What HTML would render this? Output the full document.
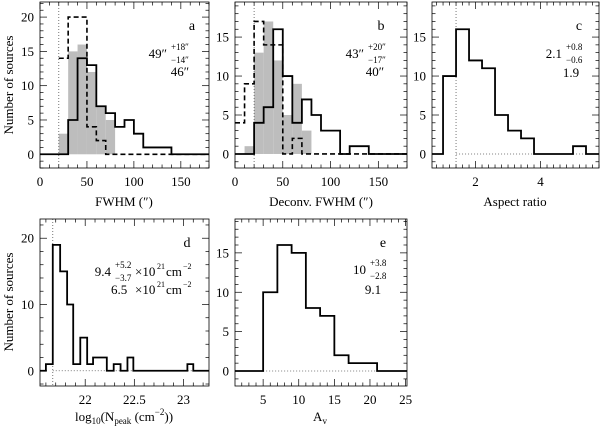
<!DOCTYPE html>
<html><head><meta charset="utf-8"><style>
body{margin:0;background:#fff;}
svg{display:block;font-family:"Liberation Serif",serif;}
</style></head><body>
<svg id="chart" width="600" height="426" viewBox="0 0 600 426" xmlns="http://www.w3.org/2000/svg"></svg>
<script>
// Panel a: FWHM
const aEdges=[0,20,30,40,50,60,70,80,90,100,110,140,180];
const aSolid=[0,0,5,14,13,7,6,4,5,3,1,0];
const aGrayEdges=[20,30,40,50,60,70,80];
const aGray=[3,15,16,12,7,5];
const aDashEdges=[20,30,50,60,70,180];
const aDash=[14,20,4,2,0];
// Panel b: Deconv FWHM
const bEdges=[0,20,30,40,50,60,70,80,90,110,120,140,180];
const bSolid=[0,4,6,16,10,4,7,5,3,0,1,0];
const bGrayEdges=[10,20,30,40,50,60,70,80];
const bGray=[1,13,17,12,5,9,3];
const bDashEdges=[0,10,20,30,50,60,70,180];
const bDash=[4,9,17,14,0,2,0];
// Panel c: Aspect ratio
const cEdges=[0.66,1.0,1.4,1.8,2.2,2.6,3.0,3.4,3.8,5.0,5.4,5.8];
const cSolid=[0,10,16,12,11,5,3,2,0,1,0];
// Panel d: log10 Npeak
const dEdges=[21.54,21.60,21.67,21.745,21.816,21.878,21.95,22.02,22.08,22.22,22.29,22.36,22.43,22.49,23.04,23.10,23.26];
const dSolid=[0,1,19,15,10,1,5,1,2,0,1,0,2,0,1,0];
// Panel e: Av
const eEdges=[1.05,5,7,9,11,13,15,17,21,25.2];
const eSolid=[0,10,16,15,8,7,2,1,0];
// Tick labels
const aXTicks=[0,50,100,150], aYTicks=[0,5,10,15,20];
const bXTicks=[0,50,100,150], bYTicks=[0,5,10,15];
const cXTicks=[2,4], cYTicks=[0,5,10,15];
const dXTicks=[22,22.5,23], dYTicks=[0,10,20];
const eXTicks=[5,10,15,20,25], eYTicks=[0,5,10,15];

const NS="http://www.w3.org/2000/svg";
const svg=document.getElementById('chart');
function el(tag,attrs,parent){const e=document.createElementNS(NS,tag);for(const k in attrs)e.setAttribute(k,attrs[k]);(parent||svg).appendChild(e);return e;}
function txt(x,y,s,size,anchor,parent){const t=el('text',{x:x,y:y,'font-size':size,'text-anchor':anchor||'middle',fill:'#000'},parent);t.textContent=s;return t;}

function panel(name,px0,px1,py0,py1,xd,yd){
  const g=el('g',{});
  
  
  const sx=v=>px0+(v-xd[0])/(xd[1]-xd[0])*(px1-px0);
  const sy=v=>py1-(v-yd[0])/(yd[1]-yd[0])*(py1-py0);
  return {g,sx,sy,px0,px1,py0,py1,xd,yd};
}
function stepPath(P,edges,vals){
  let d='M'+P.sx(edges[0])+','+P.sy(vals[0]);
  for(let i=0;i<vals.length;i++){
    d+=' L'+P.sx(edges[i])+','+P.sy(vals[i])+' L'+P.sx(edges[i+1])+','+P.sy(vals[i]);
  }
  return d;
}
function grayBars(P,edges,vals,name){
  for(let i=0;i<vals.length;i++){
    const r=el('rect',{x:P.sx(edges[i]),y:P.sy(vals[i]),width:P.sx(edges[i+1])-P.sx(edges[i]),height:P.sy(0)-P.sy(vals[i]),fill:'#bdbdbd'},P.g);
    
    
  }
}
function line(P,edges,vals,name,dash){
  const p=el('path',{d:stepPath(P,edges,vals),fill:'none',stroke:'#000','stroke-width':dash?1.6:1.8,'stroke-dasharray':dash||'none'},P.g);
  
  
}
function axes(P,xTicks,yTicks,xMinor,yMinor,xFmt){
  const f=el('rect',{x:P.px0,y:P.py0,width:P.px1-P.px0,height:P.py1-P.py0,fill:'none',stroke:'#000','stroke-width':0.8},P.g);
  
  
  const tg=el('g',{stroke:'#000','stroke-width':0.7},P.g);
  // x ticks
  let s=Math.ceil(P.xd[0]/xMinor-1e-6);
  for(let k=s;k*xMinor<=P.xd[1]+1e-9;k++){
    const v=k*xMinor,x=P.sx(v);
    const major=xTicks.some(t=>Math.abs(t-v)<1e-6);
    const L=major?7:3.5;
    el('line',{x1:x,x2:x,y1:P.py1,y2:P.py1-L},tg);
    el('line',{x1:x,x2:x,y1:P.py0,y2:P.py0+L},tg);
  }
  s=Math.ceil(P.yd[0]/yMinor-1e-6);
  for(let k=s;k*yMinor<=P.yd[1]+1e-9;k++){
    const v=k*yMinor,y=P.sy(v);
    const major=yTicks.some(t=>Math.abs(t-v)<1e-6);
    const L=major?7:3.5;
    el('line',{x1:P.px0,x2:P.px0+L,y1:y,y2:y},tg);
    el('line',{x1:P.px1,x2:P.px1-L,y1:y,y2:y},tg);
  }
  xTicks.forEach(v=>{const t=txt(P.sx(v),P.py1+18,xFmt?xFmt(v):String(v),13,'middle',P.g);
    });
  yTicks.forEach(v=>{const t=txt(P.px0-6,P.sy(v)+4.5,String(v),13,'end',P.g);
    });
}
function dotted(P,x1,y1,x2,y2){
  const l=el('line',{x1:x1,y1:y1,x2:x2,y2:y2,stroke:'#555','stroke-width':0.8,'stroke-dasharray':'1,2'},P.g);
  
  
}
function stat(P,x,y,main,sup,sub,size){
  const g=el('g',{},P.g);
  
  
  txt(x,y,main,13,'end',g);
  txt(x+4,y-8,sup,size||9,'start',g);
  txt(x+4,y+5,sub,size||9,'start',g);
  return g;
}

// Panel a
const A=panel('panel-a-fwhm',40,209,2,168,[0,180],[-2.0,22.2]);
grayBars(A,aGrayEdges,aGray,'fwhm-gray');
dotted(A,A.sx(20),A.py0,A.sx(20),A.py1);
line(A,aDashEdges,aDash,'fwhm-dashed-series','5,3');
line(A,aEdges,aSolid,'fwhm-solid-series');
axes(A,aXTicks,aYTicks,10,1);
txt(192,30,'a',14,'middle',A.g);
stat(A,167,58,'49″','+18″','−14″');
txt(180,76,'46″',13,'middle',A.g);

// Panel b
const B=panel('panel-b-deconv-fwhm',235,407,2,168,[0,180],[-1.8,19.5]);
grayBars(B,bGrayEdges,bGray,'deconv-gray');
dotted(B,B.sx(20),B.py0,B.sx(20),B.py1);
line(B,bDashEdges,bDash,'deconv-dashed-series','5,3');
line(B,bEdges,bSolid,'deconv-solid-series');
axes(B,bXTicks,bYTicks,10,1);
txt(381,30,'b',14,'middle',B.g);
stat(B,364,58,'43″','+20″','−17″');
txt(375,76,'40″',13,'middle',B.g);

// Panel c
const C=panel('panel-c-aspect-ratio',432,599,2,168,[0.66,5.8],[-1.8,19.5]);
dotted(C,C.sx(1.4),C.py0,C.sx(1.4),C.py1);
dotted(C,C.sx(1.4),C.sy(0),C.px1,C.sy(0));
line(C,cEdges,cSolid,'aspect-ratio-series');
axes(C,cXTicks,cYTicks,0.2,1);
txt(579,30,'c',14,'middle',C.g);
stat(C,562,58,'2.1','+0.8','−0.6');
txt(571,77,'1.9',13,'middle',C.g);

// Panel d
const D=panel('panel-d-column-density',40,209,219,386,[21.54,23.26],[-2.3,22.9]);
dotted(D,D.sx(21.67),D.py0,D.sx(21.67),D.py1);
dotted(D,D.sx(21.67),D.sy(0),D.px1,D.sy(0));
line(D,dEdges,dSolid,'column-density-series');
axes(D,dXTicks,dYTicks,0.1,2);
txt(187,247,'d',14,'middle',D.g);
const dg=stat(D,111,276,'9.4','+5.2','−3.7');
txt(135,276,'×10',13,'start',dg); txt(157,269,'21',8,'start',dg); txt(166,276,'cm',13,'start',dg); txt(183,269,'−2',8,'start',dg);
const dg2=el('g',{},D.g);


txt(111,294,'6.5',13,'start',dg2);txt(135,294,'×10',13,'start',dg2); txt(157,287,'21',8,'start',dg2); txt(166,294,'cm',13,'start',dg2); txt(183,287,'−2',8,'start',dg2);

// Panel e
const E=panel('panel-e-extinction',235,407,219,386,[1.05,25.2],[-1.9,19.3]);
dotted(E,E.sx(5),E.sy(0),E.px1,E.sy(0));
line(E,eEdges,eSolid,'extinction-series');
axes(E,eXTicks,eYTicks,1,1);
txt(383,247,'e',14,'middle',E.g);
stat(E,366,274,'10','+3.8','−2.8');
txt(373,294,'9.1',13,'middle',E.g);

// Axis titles
function title(x,y,s,name,rot){const t=txt(x,y,s,13,'middle');if(rot)t.setAttribute('transform','rotate(-90 '+x+' '+y+')');return t;}
title(13,85,'Number of sources','y-axis-title-top',true);
title(13,302,'Number of sources','y-axis-title-bottom',true);
title(124,206,'FWHM (″)','x-axis-title-a');
title(321,206,'Deconv. FWHM (″)','x-axis-title-b');
title(515,206,'Aspect ratio','x-axis-title-c');
const dt=el('text',{x:124,y:421,'font-size':13,'text-anchor':'middle'});


dt.innerHTML='log<tspan font-size="9" dy="3">10</tspan><tspan dy="-3">(N</tspan><tspan font-size="9" dy="3">peak</tspan><tspan dy="-3"> (cm</tspan><tspan font-size="9" dy="-6">−2</tspan><tspan dy="6">))</tspan>';
const et=el('text',{x:320,y:421,'font-size':13,'text-anchor':'middle'});


et.innerHTML='A<tspan font-size="9" dy="3">v</tspan>';
</script>
</body></html>
